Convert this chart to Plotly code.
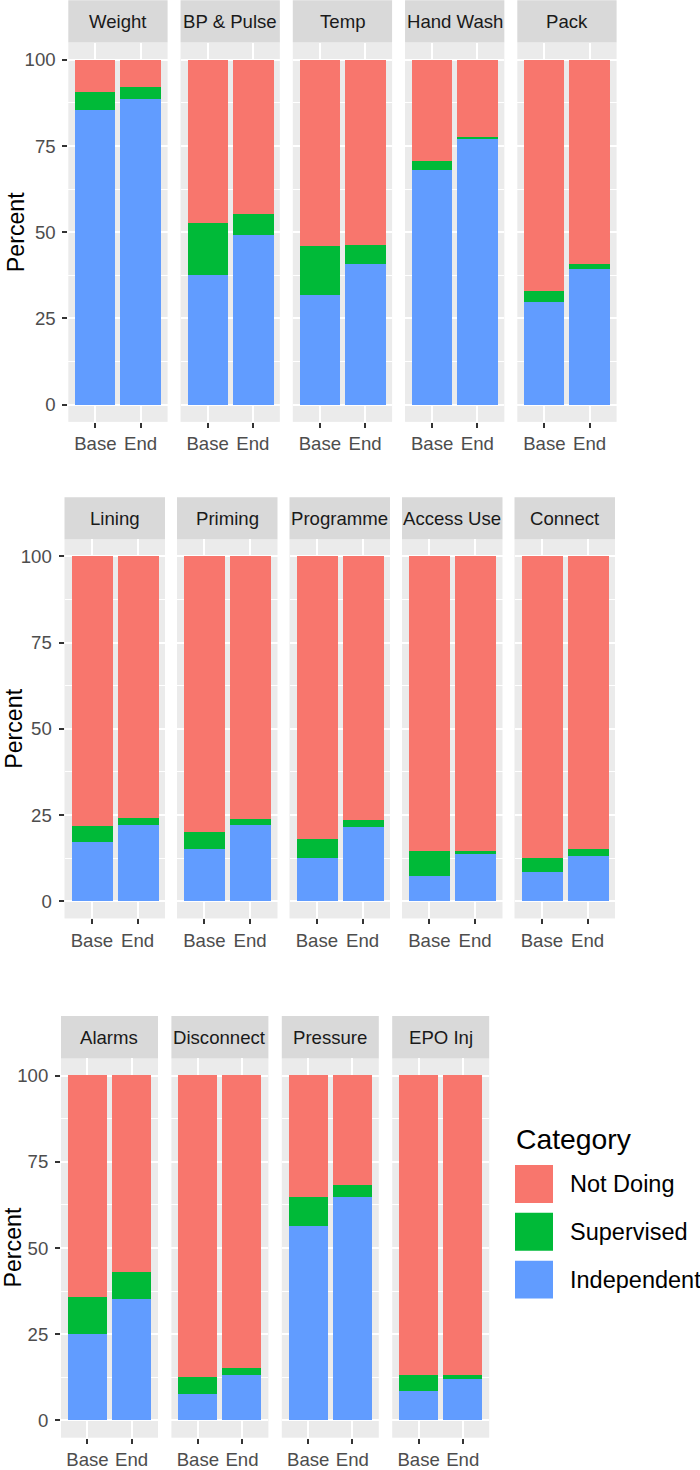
import plotly.graph_objects as go

# ---------------- data ----------------
tasks = ["Weight", "BP & Pulse", "Temp", "Hand Wash", "Pack",
         "Lining", "Priming", "Programme", "Access Use", "Connect",
         "Alarms", "Disconnect", "Pressure", "EPO Inj"]
timepoints = ["Base", "End"]
categories = ["Not Doing", "Supervised", "Independent"]

independent_base = [85.6, 37.7, 32.0, 68.1, 29.8, 17.1, 15.2, 12.5, 7.4, 8.3, 25.0, 7.7, 56.3, 8.3]
supervised_base = [5.2, 15.1, 14.2, 2.6, 3.4, 4.7, 4.8, 5.6, 7.2, 4.1, 10.6, 4.7, 8.3, 4.8]
not_doing_base = [9.2, 47.2, 53.8, 29.3, 66.8, 78.2, 80.0, 81.9, 85.4, 87.6, 64.4, 87.6, 35.4, 86.9]

independent_end = [88.8, 49.3, 40.9, 77.3, 39.4, 22.0, 22.2, 21.5, 13.7, 13.2, 35.0, 13.0, 64.7, 11.8]
supervised_end = [3.5, 6.2, 5.6, 0.4, 1.4, 2.1, 1.5, 2.1, 0.7, 2.0, 7.9, 2.0, 3.5, 1.3]
not_doing_end = [7.7, 44.5, 53.5, 22.3, 59.2, 75.9, 76.3, 76.4, 85.6, 84.8, 57.1, 85.0, 31.8, 86.9]

y_ticks = [0, 25, 50, 75, 100]

# ---------------- styling ----------------
W, H = 700, 1470
FONT = "Liberation Sans, Arial, Helvetica, sans-serif"
COLORS = {"Not Doing": "#F8766D", "Supervised": "#00BA38", "Independent": "#619CFF"}
PANEL_BG = "#EBEBEB"
STRIP_BG = "#D9D9D9"

# rows: (panel indices, x start, step, width, plot top, plot bottom, strip height, y-title x)
rows = [
    (list(range(0, 5)), 68.3, 112.25, 99.3, 42.7, 423.3, 42.5, 16),
    (list(range(5, 10)), 64.5, 112.5, 100.5, 541.0, 921.6, 42.0, 14),
    (list(range(10, 14)), 61.0, 110.4, 97.0, 1062.0, 1442.6, 42.5, 13.5),
]

def px_x(v):
    return v / W

def px_y(v):
    return 1 - v / H

fig = go.Figure()
layout = {}
shapes = []
annotations = []

data_by_cat = {
    "Independent": (independent_base, independent_end),
    "Supervised": (supervised_base, supervised_end),
    "Not Doing": (not_doing_base, not_doing_end),
}

for (idxs, x0, step, width, top, bottom, strip_h, ytx) in rows:
    for j, i in enumerate(idxs):
        n = i + 1
        xs = "" if n == 1 else str(n)
        left = x0 + j * step
        right = left + width
        first = (j == 0)
        for cat in ["Independent", "Supervised", "Not Doing"]:
            b, e = data_by_cat[cat]
            fig.add_trace(go.Bar(
                x=timepoints, y=[b[i], e[i]], name=cat,
                marker=dict(color=COLORS[cat], line=dict(width=0)),
                width=0.9, showlegend=False,
                xaxis="x" + xs, yaxis="y" + xs,
                hovertemplate=tasks[i] + " %{x}<br>" + cat + ": %{y}%<extra></extra>",
            ))
        layout["xaxis" + xs] = dict(
            domain=[px_x(left), px_x(right)], anchor="y" + xs,
            type="category", categoryorder="array", categoryarray=timepoints,
            range=[-0.6, 1.6], showgrid=True, gridcolor="white", gridwidth=2.2,
            zeroline=False, showline=False, ticks="outside", ticklen=5,
            tickwidth=1.6, tickcolor="#333333",
            tickfont=dict(size=18.6, color="#4D4D4D", family=FONT),
            fixedrange=True,
        )
        layout["yaxis" + xs] = dict(
            domain=[px_y(bottom), px_y(top)], anchor="x" + xs,
            range=[-5, 105], tickvals=y_ticks,
            showgrid=True, gridcolor="white", gridwidth=2.2,
            minor=dict(dtick=12.5, tick0=0, showgrid=True, gridcolor="white", gridwidth=1.1, ticks=""),
            zeroline=False, showline=False,
            ticks="outside" if first else "", ticklen=5, tickwidth=1.6, tickcolor="#333333",
            showticklabels=first, ticklabelstandoff=3,
            tickfont=dict(size=18.6, color="#4D4D4D", family=FONT),
            fixedrange=True,
        )
        # strip
        shapes.append(dict(type="rect", xref="paper", yref="paper",
                           x0=px_x(left), x1=px_x(right),
                           y0=px_y(top), y1=px_y(top - strip_h),
                           fillcolor=STRIP_BG, line=dict(width=0), layer="below"))
        annotations.append(dict(text=tasks[i], xref="paper", yref="paper",
                                x=px_x((left + right) / 2), y=px_y(top - strip_h / 2),
                                xanchor="center", yanchor="middle", showarrow=False,
                                font=dict(size=18.6, color="#1A1A1A", family=FONT)))
    # y axis title
    annotations.append(dict(text="Percent", xref="paper", yref="paper",
                            x=px_x(ytx), y=px_y((top + bottom) / 2),
                            xanchor="center", yanchor="middle", textangle=-90,
                            borderpad=0,
                            showarrow=False, font=dict(size=23.2, color="black", family=FONT)))

# ---------------- legend (drawn) ----------------
leg_x = 515
annotations.append(dict(text="Category", xref="paper", yref="paper",
                        x=px_x(leg_x - 1), y=px_y(1143), xanchor="left", yanchor="middle",
                        showarrow=False, font=dict(size=28.3, color="black", family=FONT)))
key_tops = [1169, 1217, 1265]
for cat, kt in zip(categories, key_tops):
    shapes.append(dict(type="rect", xref="paper", yref="paper",
                       x0=px_x(leg_x), x1=px_x(leg_x + 38),
                       y0=px_y(kt + 38), y1=px_y(kt),
                       fillcolor=COLORS[cat], line=dict(width=0)))
    annotations.append(dict(text=cat, xref="paper", yref="paper",
                            x=px_x(568), y=px_y(kt + 19), xanchor="left", yanchor="middle",
                            showarrow=False, font=dict(size=23.5, color="black", family=FONT)))

layout.update(dict(
    width=W, height=H, margin=dict(l=0, r=0, t=0, b=0),
    paper_bgcolor="white", plot_bgcolor=PANEL_BG,
    barmode="stack", bargap=0, showlegend=False,
    font=dict(family=FONT),
    shapes=shapes, annotations=annotations,
))
fig.update_layout(**layout)
fig.write_html(
    "out.html",
    config={"displayModeBar": False},
    post_script="document.body.style.margin='0';document.body.style.overflow='hidden';",
)
